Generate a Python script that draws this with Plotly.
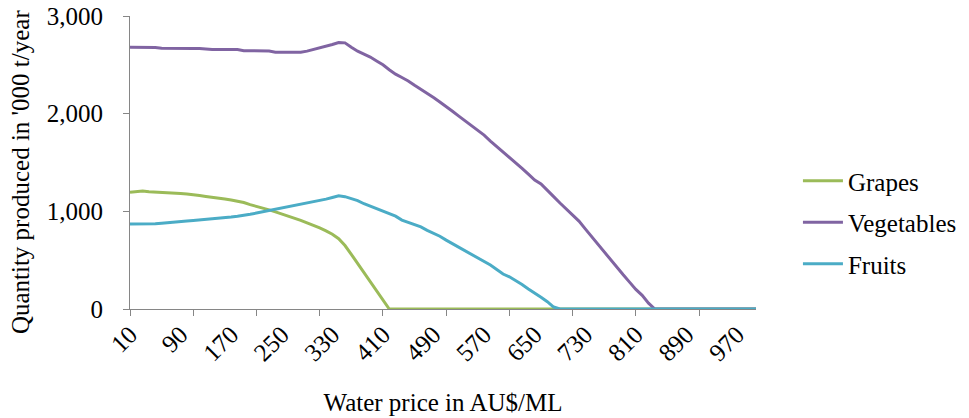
import plotly.graph_objects as go

# Water price categories (AU$/ML)
prices = list(range(10, 1001, 10))

# Quantity produced ('000 t/year) at each water price
grapes = [
    1195, 1205, 1208, 1200, 1195, 1192, 1188, 1184, 1182, 1178,
    1172, 1162, 1152, 1145, 1136, 1126, 1115, 1103, 1090, 1068,
    1052, 1035, 1015, 995, 975, 952, 930, 908, 882, 858,
    830, 800, 765, 720, 650, 560, 465, 370, 275, 180,
    90, 0, 0, 0, 0, 0, 0, 0, 0, 0,
    0, 0, 0, 0, 0, 0, 0, 0, 0, 0,
    0, 0, 0, 0, 0, 0, 0, 0, 0, 0,
    0, 0, 0, 0, 0, 0, 0, 0, 0, 0,
    0, 0, 0, 0, 0, 0, 0, 0, 0, 0,
    0, 0, 0, 0, 0, 0, 0, 0, 0, 0,
]

vegetables = [
    2680, 2680, 2680, 2680, 2678, 2670, 2668, 2668, 2668, 2668,
    2667, 2666, 2660, 2658, 2658, 2658, 2658, 2656, 2645, 2644,
    2644, 2644, 2642, 2630, 2628, 2627, 2627, 2628, 2640, 2655,
    2672, 2692, 2708, 2728, 2725, 2680, 2640, 2610, 2580, 2540,
    2500, 2450, 2405, 2370, 2335, 2290, 2250, 2210, 2165, 2120,
    2075, 2025, 1975, 1925, 1880, 1830, 1780, 1720, 1665, 1615,
    1560, 1505, 1440, 1380, 1320, 1280, 1220, 1150, 1085, 1020,
    955, 900, 820, 740, 665, 590, 510, 430, 350, 275,
    200, 140, 60, 0, 0, 0, 0, 0, 0, 0,
    0, 0, 0, 0, 0, 0, 0, 0, 0, 0,
]

fruits = [
    870, 870, 870, 870, 872, 878, 885, 890, 895, 900,
    905, 910, 916, 922, 928, 935, 942, 950, 958, 970,
    982, 995, 1005, 1015, 1028, 1040, 1055, 1072, 1080, 1092,
    1105, 1125, 1142, 1160, 1150, 1130, 1110, 1078, 1052, 1025,
    1000, 975, 950, 910, 885, 862, 840, 805, 775, 745,
    705, 668, 635, 595, 560, 525, 490, 450, 405, 358,
    330, 292, 250, 205, 165, 120, 75, 20, 0, 0,
    0, 0, 0, 0, 0, 0, 0, 0, 0, 0,
    0, 0, 0, 0, 0, 0, 0, 0, 0, 0,
    0, 0, 0, 0, 0, 0, 0, 0, 0, 0,
]

# Labelled categories (every 8th) and tick-mark categories (every 10th)
label_prices = list(range(10, 971, 80))
tick_prices = list(range(10, 911, 100))

series = [
    ("Grapes", grapes, "#9BBB59"),
    ("Vegetables", vegetables, "#8064A2"),
    ("Fruits", fruits, "#4BACC6"),
]

FONT = "'Liberation Serif', 'Times New Roman', Times, serif"
FSIZE = 25
AXIS_GREY = "#868686"

fig = go.Figure()
for name, values, color in series:
    fig.add_trace(go.Scatter(
        x=prices, y=values, name=name, mode="lines",
        line=dict(color=color, width=3),
        legendgroup=name,
    ))

# Helper trace so the tick-mark axis is rendered
fig.add_trace(go.Scatter(
    x=prices, y=[None] * len(prices), xaxis="x2", yaxis="y",
    showlegend=False, hoverinfo="skip", mode="lines",
))

fig.update_layout(
    width=969, height=418,
    margin=dict(l=130, r=213, t=16, b=109, autoexpand=False),
    paper_bgcolor="white", plot_bgcolor="white",
    font=dict(family=FONT, size=FSIZE, color="black"),
    showlegend=True,
    legend=dict(
        x=1.067, y=0.295, xanchor="left", yanchor="middle",
        font=dict(family=FONT, size=FSIZE, color="black"),
        tracegroupgap=6, itemwidth=40,
        bgcolor="rgba(0,0,0,0)",
    ),
    xaxis=dict(
        range=[10, 1000], automargin=False,
        tickmode="array", tickvals=label_prices,
        ticktext=[str(p) for p in label_prices],
        tickangle=-45, ticks="",
        showline=True, linecolor=AXIS_GREY, linewidth=1,
        showgrid=False, zeroline=False,
        tickfont=dict(family=FONT, size=FSIZE),
        title=dict(text="Water price in AU$/ML", standoff=28,
                   font=dict(family=FONT, size=FSIZE)),
    ),
    xaxis2=dict(
        range=[10, 1000], overlaying="x", anchor="y", side="bottom",
        automargin=False,
        tickmode="array", tickvals=tick_prices,
        ticks="outside", ticklen=6, tickcolor=AXIS_GREY, tickwidth=1,
        showticklabels=False, showgrid=False, zeroline=False,
        showline=False,
    ),
    yaxis=dict(
        range=[0, 3000], automargin=False,
        tickmode="array", tickvals=[0, 1000, 2000, 3000],
        tickformat=",d",
        ticks="outside", ticklen=6, tickcolor=AXIS_GREY,
        ticklabelstandoff=15,
        showline=True, linecolor=AXIS_GREY, linewidth=1,
        showgrid=False, zeroline=False,
        tickfont=dict(family=FONT, size=FSIZE),
    ),
    annotations=[dict(
        text="Quantity produced in '000 t/year",
        textangle=-90, showarrow=False,
        xref="paper", yref="paper", x=-0.176, y=0.47,
        xanchor="center", yanchor="middle",
        font=dict(family=FONT, size=FSIZE, color="black"),
    )],
)

fig.write_html("out.html")
